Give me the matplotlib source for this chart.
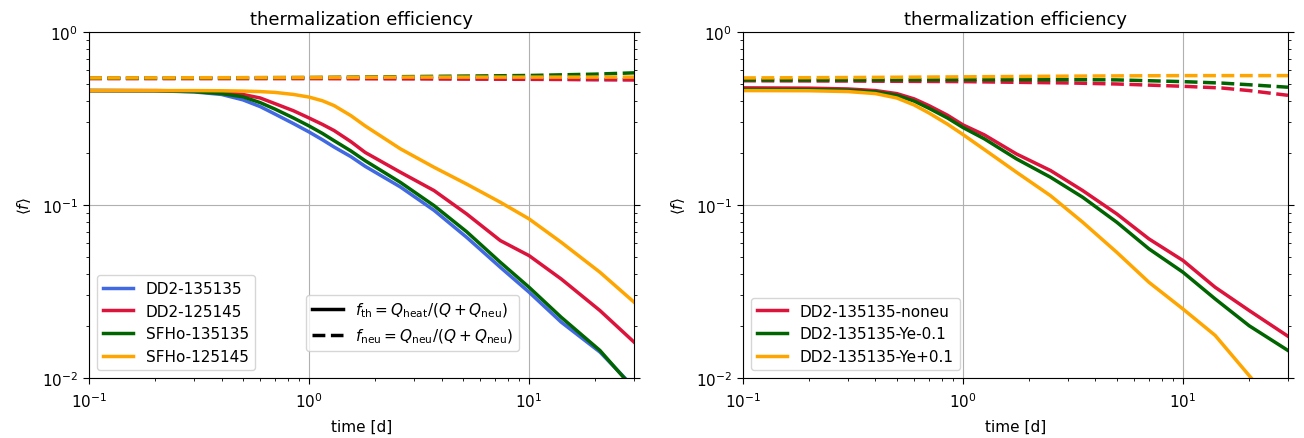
import matplotlib
matplotlib.use('Agg')
import matplotlib.pyplot as plt
from matplotlib.lines import Line2D

plt.rcParams['font.size'] = 11
plt.rcParams['axes.titlesize'] = 13
plt.rcParams['xtick.major.size'] = 4.5
plt.rcParams['ytick.major.size'] = 4.5
plt.rcParams['xtick.minor.size'] = 2.5
plt.rcParams['ytick.minor.size'] = 2.5
plt.rcParams['xtick.major.pad'] = 5.5

# time grid [d] for the heating curves
t_th = [0.1, 0.2, 0.3, 0.4, 0.5, 0.6, 0.7, 0.85, 1.0, 1.15, 1.3, 1.55, 1.8, 2.6, 3.7, 5.2, 7.4, 10, 14, 21, 30]
# f_th for the four binaries
fth_dd2_135135 = [0.458, 0.457, 0.45, 0.435, 0.405, 0.37, 0.335, 0.295, 0.264, 0.238, 0.216, 0.19, 0.167,
                  0.127, 0.093, 0.065, 0.0436, 0.0313, 0.021, 0.0141, 0.0088]
fth_dd2_125145 = [0.458, 0.458, 0.455, 0.448, 0.435, 0.415, 0.385, 0.35, 0.318, 0.292, 0.269, 0.232, 0.201,
                  0.1545, 0.121, 0.0887, 0.0622, 0.0509, 0.0373, 0.0245, 0.0161]
fth_sfho_135135 = [0.458, 0.457, 0.452, 0.44, 0.422, 0.39, 0.358, 0.318, 0.286, 0.259, 0.235, 0.205, 0.18,
                   0.135, 0.099, 0.07, 0.0466, 0.0334, 0.0224, 0.0144, 0.0086]
fth_sfho_125145 = [0.458, 0.458, 0.458, 0.457, 0.455, 0.452, 0.447, 0.435, 0.42, 0.4, 0.375, 0.328, 0.286,
                   0.211, 0.165, 0.132, 0.1036, 0.083, 0.0608, 0.0408, 0.0274]

# f_neu for the four binaries
t_neu = [0.1, 1, 3, 10, 20, 30]
fneu_dd2_135135 = [0.54, 0.54, 0.54, 0.535, 0.53, 0.53]
fneu_dd2_125145 = [0.537, 0.537, 0.535, 0.532, 0.53, 0.528]
fneu_sfho_135135 = [0.54, 0.545, 0.552, 0.56, 0.57, 0.58]
fneu_sfho_125145 = [0.542, 0.545, 0.548, 0.548, 0.548, 0.548]

# DD2-135135 variations
t_var = [0.1, 0.2, 0.3, 0.4, 0.5, 0.6, 0.7, 0.85, 1.0, 1.25, 1.75, 2.5, 3.5, 5, 7, 10, 14, 20, 30]
fth_noneu = [0.475, 0.473, 0.468, 0.458, 0.44, 0.41, 0.375, 0.33, 0.29, 0.254, 0.197, 0.158,
             0.121, 0.0887, 0.0636, 0.0477, 0.0334, 0.0245, 0.0174]
fth_ye_m = [0.465, 0.464, 0.46, 0.45, 0.43, 0.398, 0.362, 0.318, 0.28, 0.241, 0.1845, 0.1445,
            0.1107, 0.0794, 0.0557, 0.0408, 0.0286, 0.02, 0.0144]
fth_ye_p = [0.458, 0.457, 0.452, 0.44, 0.415, 0.378, 0.34, 0.293, 0.255, 0.209, 0.1545, 0.113,
            0.0794, 0.0532, 0.0357, 0.025, 0.0176, 0.0103, 0.0056]

t_var_neu = [0.1, 0.3, 1, 3, 5, 10, 15, 20, 30]
fneu_noneu = [0.522, 0.52, 0.516, 0.507, 0.5, 0.485, 0.474, 0.458, 0.43]
fneu_ye_m = [0.528, 0.528, 0.53, 0.53, 0.528, 0.516, 0.506, 0.495, 0.479]
fneu_ye_p = [0.542, 0.545, 0.55, 0.555, 0.557, 0.559, 0.559, 0.559, 0.559]

lw = 2.5

fig, axs = plt.subplots(1, 2, figsize=(13.04, 4.39), dpi=100)
fig.subplots_adjust(left=0.0683, right=0.9877, bottom=0.137, top=0.925, wspace=0.2)

# left: equal/unequal mass binaries
ax = axs[0]
models = [('DD2-135135', 'royalblue', fth_dd2_135135, fneu_dd2_135135),
          ('DD2-125145', 'crimson', fth_dd2_125145, fneu_dd2_125145),
          ('SFHo-135135', 'darkgreen', fth_sfho_135135, fneu_sfho_135135),
          ('SFHo-125145', 'orange', fth_sfho_125145, fneu_sfho_125145)]
for name, col, fth, fneu in models:
    ax.plot(t_th, fth, color=col, lw=lw, label=name)
for name, col, fth, fneu in models:
    ax.plot(t_neu, fneu, color=col, lw=lw, ls='--')
leg1 = ax.legend(loc='lower left')
ax.add_artist(leg1)
handles = [Line2D([], [], color='k', lw=lw, ls='-'),
           Line2D([], [], color='k', lw=lw, ls='--')]
labels = [r'$f_{\rm th} = Q_{\rm heat}/(Q+Q_{\rm neu})$',
          r'$f_{\rm neu} = Q_{\rm neu}/(Q+Q_{\rm neu})$']
ax.legend(handles, labels, loc='lower right', bbox_to_anchor=(0.803, 0.055))

# right: DD2-135135 with modified neutrino treatment / Ye
ax = axs[1]
variants = [('DD2-135135-noneu', 'crimson', fth_noneu, fneu_noneu),
            ('DD2-135135-Ye-0.1', 'darkgreen', fth_ye_m, fneu_ye_m),
            ('DD2-135135-Ye+0.1', 'orange', fth_ye_p, fneu_ye_p)]
for name, col, fth, fneu in variants:
    ax.plot(t_var, fth, color=col, lw=lw, label=name)
for name, col, fth, fneu in variants:
    ax.plot(t_var_neu, fneu, color=col, lw=lw, ls='--')
ax.legend(loc='lower left')

for ax in axs:
    ax.set_xscale('log')
    ax.set_yscale('log')
    ax.set_xlim(0.1, 30)
    ax.set_ylim(1e-2, 1)
    ax.grid(True)
    ax.tick_params(which='both', right=True)
    ax.set_xlabel('time [d]', labelpad=6)
    ax.set_ylabel(r'$\langle f \rangle$', labelpad=6)
    ax.set_title('thermalization efficiency')

fig.savefig('out.png', dpi=100)
